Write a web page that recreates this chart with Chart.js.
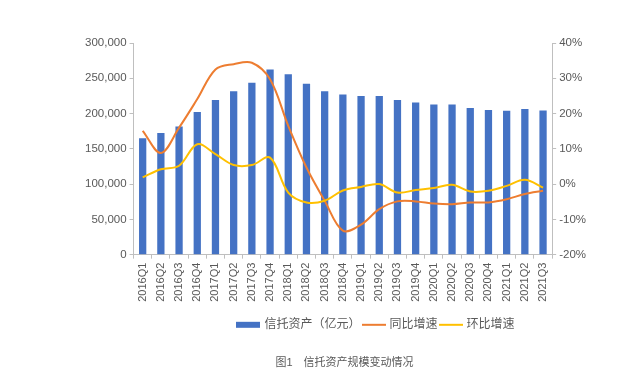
<!DOCTYPE html>
<html>
<head>
<meta charset="utf-8">
<script src="https://cdn.jsdelivr.net/npm/chart.js@4/dist/chart.umd.min.js"></script>
<style>
  html, body { margin: 0; padding: 0; background: #ffffff; }
  #wrap { width: 640px; height: 374px; position: relative; }
</style>
</head>
<body>
<div id="wrap"><canvas id="c" width="640" height="374"></canvas></div>
<script>
const categories = ["2016Q1","2016Q2","2016Q3","2016Q4","2017Q1","2017Q2","2017Q3","2017Q4",
  "2018Q1","2018Q2","2018Q3","2018Q4","2019Q1","2019Q2","2019Q3","2019Q4",
  "2020Q1","2020Q2","2020Q3","2020Q4","2021Q1","2021Q2","2021Q3"];
const trustAssets = [165000, 172600, 181600, 202200, 219300, 231600, 243800, 262500,
  255600, 242400, 231600, 227000, 225000, 224900, 219300, 215500,
  212700, 212700, 208000, 204900, 203800, 206400, 204400];
const yoyGrowth = [15.1, 8.8, 16.0, 24.1, 32.5, 34.0, 34.4, 29.7,
  16.5, 4.7, -4.7, -13.2, -11.5, -7.1, -4.9, -4.9,
  -5.5, -5.7, -5.2, -5.2, -4.3, -2.8, -1.9];
const qoqGrowth = [1.9, 4.2, 5.2, 11.3, 8.5, 5.4, 5.4, 7.5,
  -2.4, -5.2, -4.7, -1.8, -0.8, 0.0, -2.4, -1.7,
  -1.1, -0.2, -2.1, -1.9, -0.5, 1.2, -1.0];
const leftTicks = [0, 50000, 100000, 150000, 200000, 250000, 300000];
const rightTicks = [-20, -10, 0, 10, 20, 30, 40];
const seriesNames = ["信托资产（亿元）", "同比增速", "环比增速"];
const chartTitle = "图1　信托资产规模变动情况";

const BLUE = "#4472C4", ORANGE = "#ED7D31", YELLOW = "#FFC000";
const TEXT = "#595959", AXIS = "#BFBFBF";
const FONT = "'Liberation Sans', 'Noto Sans CJK SC', sans-serif";

function legendIcon(kind, color) {
  const cv = document.createElement("canvas");
  cv.width = 24; cv.height = 8;
  const g = cv.getContext("2d");
  g.fillStyle = color;
  if (kind === "bar") g.fillRect(0, 1, 24, 6);
  else g.fillRect(0, 3, 24, 2);
  return cv;
}
const icons = [legendIcon("bar", BLUE), legendIcon("line", ORANGE), legendIcon("line", YELLOW)];

// shift legend and title horizontally to match the original placement
const shiftBoxes = {
  id: "shiftBoxes",
  afterLayout(chart) {
    if (chart.legend) { chart.legend.left += 41; chart.legend.right += 41; }
    if (chart.titleBlock) { chart.titleBlock.left += 9; chart.titleBlock.right += 9; }
  }
};

new Chart(document.getElementById("c"), {
  data: {
    labels: categories,
    datasets: [
      { type: "bar", label: seriesNames[0], data: trustAssets, backgroundColor: BLUE,
        yAxisID: "y", barPercentage: 0.4, categoryPercentage: 1.0, order: 3 },
      { type: "line", label: seriesNames[1], data: yoyGrowth, borderColor: ORANGE,
        backgroundColor: ORANGE, borderWidth: 2, pointRadius: 0, tension: 0.35,
        yAxisID: "y1", order: 2 },
      { type: "line", label: seriesNames[2], data: qoqGrowth, borderColor: YELLOW,
        backgroundColor: YELLOW, borderWidth: 2, pointRadius: 0, tension: 0.35,
        yAxisID: "y1", order: 1 }
    ]
  },
  plugins: [shiftBoxes],
  options: {
    responsive: false,
    animation: false,
    devicePixelRatio: 1,
    layout: { padding: { left: 82, right: 51, top: 43, bottom: 4 } },
    plugins: {
      tooltip: { enabled: false },
      legend: {
        position: "bottom",
        labels: {
          color: TEXT,
          font: { family: FONT, size: 12 },
          usePointStyle: true,
          pointStyleWidth: 20,
          boxHeight: 8,
          padding: 3,
          generateLabels: (chart) => chart.data.datasets.map((ds, i) => ({
            text: ds.label, pointStyle: icons[i], fillStyle: ds.backgroundColor,
            strokeStyle: ds.backgroundColor, lineWidth: 0, hidden: false,
            datasetIndex: i, fontColor: TEXT
          }))
        }
      },
      title: {
        display: true,
        position: "bottom",
        text: chartTitle,
        color: TEXT,
        font: { family: FONT, size: 11, weight: "normal" },
        padding: { top: 16, bottom: 0 }
      }
    },
    scales: {
      x: {
        offset: true,
        grid: { display: true, drawOnChartArea: false, offset: true, color: AXIS, tickLength: 4, tickColor: AXIS },
        border: { color: AXIS },
        ticks: { color: TEXT, font: { family: FONT, size: 11 }, minRotation: 90, maxRotation: 90, padding: 4, autoSkip: false },
        afterFit: (s) => { s.height += 10; }
      },
      y: {
        position: "left",
        min: 0, max: 300000,
        afterBuildTicks: (s) => { s.ticks = leftTicks.map(v => ({ value: v })); },
        grid: { display: true, drawOnChartArea: false, color: AXIS, tickLength: 4, tickColor: AXIS },
        border: { color: AXIS },
        ticks: { color: TEXT, font: { family: FONT, size: 11.5 }, padding: 3,
          callback: (v) => v.toLocaleString("en-US") }
      },
      y1: {
        position: "right",
        min: -20, max: 40,
        afterBuildTicks: (s) => { s.ticks = rightTicks.map(v => ({ value: v })); },
        grid: { display: true, drawOnChartArea: false, color: AXIS, tickLength: 4, tickColor: AXIS },
        border: { color: AXIS },
        ticks: { color: TEXT, font: { family: FONT, size: 11.5 }, padding: 3,
          callback: (v) => v + "%" }
      }
    }
  }
});
</script>
</body>
</html>
